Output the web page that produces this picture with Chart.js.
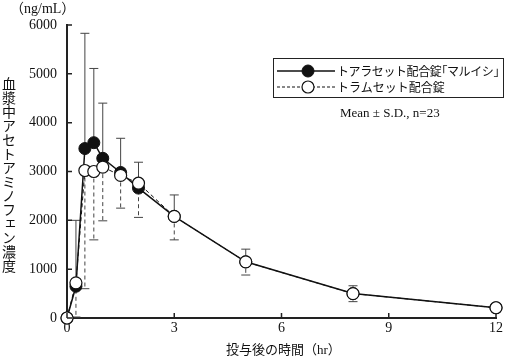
<!DOCTYPE html>
<html>
<head>
<meta charset="utf-8">
<script src="https://cdn.jsdelivr.net/npm/chart.js@4.4.1/dist/chart.umd.min.js"></script>
<style>
  html, body { margin: 0; padding: 0; background: #fff; }
  #wrap { position: relative; width: 505px; height: 359px; overflow: hidden; }
  #chart { position: absolute; left: 0; top: 0; }
  .jp { font-family: "Liberation Serif", "Noto Sans CJK JP", serif; color: #111; position: absolute; white-space: nowrap; }
  #unit { left: 10px; top: 0px; font-size: 14px; line-height: 18px; }
  #ytitle { left: 1px; top: 77px; font-size: 14px; line-height: 15px; writing-mode: vertical-rl; font-family: "Noto Sans CJK JP", sans-serif; }
  #xtitle { left: 226px; top: 342px; font-size: 13px; line-height: 16px; }
  #legend { position: absolute; left: 273px; top: 58px; width: 229px; height: 38px; border: 1px solid #222; }
  #legend svg { position: absolute; left: 0; top: 0; }
  .lg { position: absolute; left: 63px; font-family: "Noto Sans CJK JP", sans-serif; font-size: 12px; line-height: 14px; color: #111; white-space: nowrap; }
  .br { font-feature-settings: "halt"; }
  #note { left: 340px; top: 105px; font-size: 13px; line-height: 16px; }
</style>
</head>
<body>
<div id="wrap">
  <canvas id="chart" width="505" height="359"></canvas>
  <div class="jp" id="unit">（ng/mL）</div>
  <div class="jp" id="ytitle">血漿中アセトアミノフェン濃度</div>
  <div class="jp" id="xtitle">投与後の時間（hr）</div>
  <div id="legend">
    <svg width="229" height="38">
      <line x1="3" y1="12" x2="61" y2="12" stroke="#111" stroke-width="1.5"/>
      <circle cx="34" cy="12" r="6" fill="#111" stroke="#111"/>
      <line x1="3" y1="28" x2="61" y2="28" stroke="#111" stroke-width="1" stroke-dasharray="3,2"/>
      <circle cx="34" cy="28" r="6" fill="#fff" stroke="#111" stroke-width="1.2"/>
    </svg>
    <div class="lg" style="top:5px; letter-spacing:-0.4px">トアラセット配合錠<span class="br">「</span>マルイシ<span class="br">」</span></div>
    <div class="lg" style="top:21px">トラムセット配合錠</div>
  </div>
  <div class="jp" id="note">Mean ± S.D., n=23</div>
</div>
<script>
// 投与後の時間 (hr)
const timePoints = [0, 0.25, 0.5, 0.75, 1, 1.5, 2, 3, 5, 8, 12];

// トアラセット配合錠「マルイシ」
const maruishiMean = [0, 650, 3470, 3590, 3270, 2980, 2660, 2080, 1150, 500, 210];
const maruishiSD = [0, 1350, 2360, 1520, 1130, 700, 530, 440, 260, 160, 80];

// トラムセット配合錠
const tramsetMean = [0, 720, 3020, 3000, 3090, 2920, 2760, 2080, 1150, 500, 210];
const tramsetSD = [0, 700, 2420, 1400, 1100, 670, 700, 480, 270, 165, 80];

const xTicks = [0, 3, 6, 9, 12];
const yTicks = [0, 1000, 2000, 3000, 4000, 5000, 6000];

const toXY = (means) => timePoints.map((t, i) => ({ x: t, y: means[i] }));

// エラーバー（マルイシ: 上側・実線、トラムセット: 下側・破線）
const errorBars = {
  id: 'errorBars',
  beforeDatasetsDraw(chart) {
    const { ctx, scales: { x, y } } = chart;
    const cap = 4.5;
    ctx.save();
    ctx.strokeStyle = '#444';
    ctx.lineWidth = 1;
    timePoints.forEach((t, i) => {
      const px = x.getPixelForValue(t);
      if (maruishiSD[i] > 0) {
        const y0 = y.getPixelForValue(maruishiMean[i]);
        const y1 = y.getPixelForValue(maruishiMean[i] + maruishiSD[i]);
        ctx.setLineDash([]);
        ctx.beginPath();
        ctx.moveTo(px, y0); ctx.lineTo(px, y1);
        ctx.moveTo(px - cap, y1); ctx.lineTo(px + cap, y1);
        ctx.stroke();
      }
      if (tramsetSD[i] > 0) {
        const y0 = y.getPixelForValue(tramsetMean[i]);
        const y1 = y.getPixelForValue(Math.max(0, tramsetMean[i] - tramsetSD[i]));
        ctx.setLineDash([4, 3]);
        ctx.beginPath();
        ctx.moveTo(px, y0); ctx.lineTo(px, y1);
        ctx.stroke();
        ctx.setLineDash([]);
        ctx.beginPath();
        ctx.moveTo(px - cap, y1); ctx.lineTo(px + cap, y1);
        ctx.stroke();
      }
    });
    ctx.restore();
  }
};

// 内向きの目盛り
const innerTicks = {
  id: 'innerTicks',
  afterDraw(chart) {
    const { ctx, scales: { x, y } } = chart;
    ctx.save();
    ctx.strokeStyle = '#222';
    ctx.lineWidth = 1.5;
    ctx.beginPath();
    yTicks.forEach(v => {
      const py = y.getPixelForValue(v);
      ctx.moveTo(x.left, py); ctx.lineTo(x.left + 5, py);
    });
    xTicks.forEach(v => {
      const px = x.getPixelForValue(v);
      ctx.moveTo(px, y.bottom); ctx.lineTo(px, y.bottom - 5);
    });
    ctx.stroke();
    ctx.restore();
  }
};

const tickFont = { family: '"Liberation Serif", serif', size: 14 };

new Chart(document.getElementById('chart'), {
  type: 'line',
  data: {
    datasets: [
      {
        label: 'トアラセット配合錠「マルイシ」',
        data: toXY(maruishiMean),
        borderColor: '#111',
        borderWidth: 1.5,
        backgroundColor: '#111',
        pointBackgroundColor: '#111',
        pointBorderColor: '#111',
        pointRadius: 6,
        pointBorderWidth: 1,
        tension: 0,
        clip: false,
        order: 2
      },
      {
        label: 'トラムセット配合錠',
        data: toXY(tramsetMean),
        borderColor: '#111',
        borderWidth: 1,
        borderDash: [4, 3],
        backgroundColor: '#fff',
        pointBackgroundColor: '#fff',
        pointBorderColor: '#111',
        pointRadius: 6,
        pointBorderWidth: 1.2,
        tension: 0,
        clip: false,
        order: 1
      }
    ]
  },
  options: {
    responsive: false,
    animation: false,
    layout: { padding: { top: 25, right: 7, left: 0, bottom: 0 } },
    plugins: { legend: { display: false }, tooltip: { enabled: false } },
    scales: {
      x: {
        type: 'linear',
        min: 0,
        max: 12,
        afterBuildTicks: (s) => { s.ticks = xTicks.map(v => ({ value: v })); },
        afterFit: (s) => { s.height = 41; },
        grid: { display: false, drawTicks: false },
        border: { display: true, color: '#222', width: 2 },
        ticks: { color: '#111', font: tickFont, padding: 2, maxRotation: 0, callback: (v) => String(v) }
      },
      y: {
        min: 0,
        max: 6000,
        afterBuildTicks: (s) => { s.ticks = yTicks.map(v => ({ value: v })); },
        afterFit: (s) => { s.width = 67; },
        grid: { display: false, drawTicks: false },
        border: { display: true, color: '#222', width: 2 },
        ticks: { color: '#111', font: tickFont, padding: 10, callback: (v) => String(v) }
      }
    }
  },
  plugins: [errorBars, innerTicks]
});
</script>
</body>
</html>
